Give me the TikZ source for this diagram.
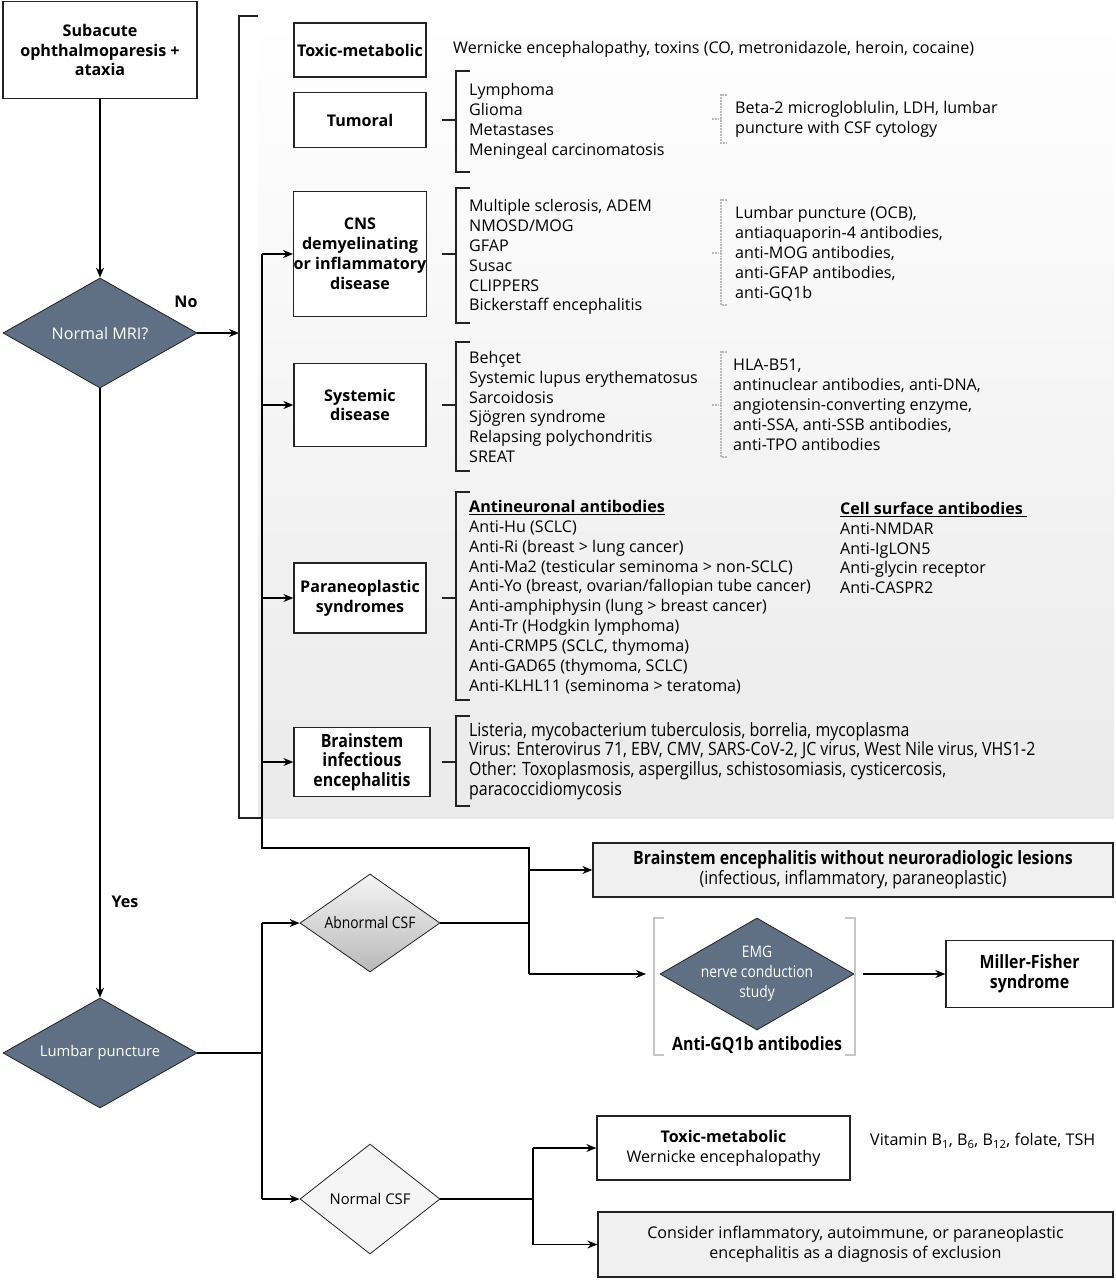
\documentclass[tikz,border=0pt]{standalone}
\usepackage{fontspec}
\setmainfont{Open Sans}
\newfontfamily\narrowfont[FakeStretch=0.87]{Open Sans}
\usetikzlibrary{arrows.meta}
\usetikzlibrary{shapes.geometric}
\definecolor{slate}{RGB}{95,112,132}
\definecolor{lineclr}{RGB}{35,35,35}
\definecolor{panel}{RGB}{234,234,234}
\newcommand{\bodyfont}{\fontsize{16.1}{19.9}\selectfont}
\newcommand{\narrowbig}{\fontsize{18.3}{19.6}\selectfont\narrowfont}
\newcommand{\narrowdia}{\fontsize{15.9}{20}\selectfont\narrowfont}

\begin{document}
\begin{tikzpicture}[x=1pt, y=-1pt, font=\bodyfont,
	box/.style={draw=lineclr, line width=1.3pt, fill=white, align=center, inner sep=0pt},
	catbox/.style={box, font=\bodyfont\bfseries, minimum width=132},
	dia/.style={diamond, draw=lineclr, line width=0.8pt, inner sep=0pt},
	lst/.style={anchor=west, align=left, inner sep=0pt},
	arr/.style={-{Stealth[length=10pt, width=8pt]}, line width=1.2pt},
	conn/.style={line width=1.2pt},
	brk/.style={line width=1.8pt, lineclr},
	dotbrk/.style={densely dotted, line width=1.8pt, gray!55}]
				\useasboundingbox (0,0) rectangle (1116,1280);
				\shade[top color=white, bottom color=panel] (258,16) rectangle (1114,818);
				% left column
				\node[box, font=\bodyfont\bfseries, minimum width=194, minimum height=97] (start) at (100,50) {Subacute\\ophthalmoparesis +\\ataxia};
				\node[dia, fill=slate, minimum width=194, minimum height=110, label={[text=white]center:Normal MRI?}] (mri) at (100,333) {};
				\node[dia, fill=slate, minimum width=194, minimum height=110, label={[text=white, font=\fontsize{14.8}{18}\selectfont]center:Lumbar puncture}] (lp) at (100,1053) {};
				\node[font=\bodyfont\bfseries] (no) at (186,302) {No};
				\node[font=\bodyfont\bfseries] (yes) at (125,902) {Yes};
				\coordinate (nojoin) at (239,333);
				\draw[arr] (start) -- (mri);
				\draw[arr] (mri) -- (lp);
				\draw[arr] (mri.east) -- (nojoin);
				% abnormal MRI
				\draw[brk, line width=2.4pt] (258,16) -- (239,16) -- (239,818) -- (262,818);
				\node[catbox, minimum height=54] (tox) at (360,50) {Toxic-metabolic};
				\node[catbox, minimum height=55] (tum) at (360,120) {Tumoral};
				\node[catbox, minimum height=125] (cns) at (360,254) {CNS\\demyelinating\\or inflammatory\\disease};
				\node[catbox, minimum height=83] (sys) at (360,405) {Systemic\\disease};
				\node[catbox, minimum height=70] (para) at (360,598) {Paraneoplastic\\syndromes};
				\node[catbox, font=\narrowbig\bfseries, minimum width=136, minimum height=69] (inf) at (362,762) {Brainstem\\infectious\\encephalitis};
				\coordinate (spinetop) at (262,254);
				\coordinate (spinebot) at (262,848);
				\coordinate (csfsplit) at (529,848);
				\draw[conn] (spinetop) -- (spinebot) -- (csfsplit) -- (529,974);
				\draw[arr] (spinetop) -- (cns.west);
				\draw[arr] (spinetop |- sys) -- (sys.west);
				\draw[arr] (spinetop |- para) -- (para.west);
				\draw[arr] (spinetop |- inf) -- (inf.west);
				% lists
				\node[lst] (toxlist) at (453,49) {Wernicke encephalopathy, toxins (CO, metronidazole, heroin, cocaine)};
				\node[lst] (tumlist) at (469,121) {Lymphoma\\Glioma\\Metastases\\Meningeal carcinomatosis};
				\node[lst] (tumtest) at (735,119) {Beta-2 microgloblulin, LDH, lumbar\\puncture with CSF cytology};
				\node[lst] (cnslist) at (469,257) {Multiple sclerosis, ADEM\\NMOSD/MOG\\GFAP\\Susac\\CLIPPERS\\Bickerstaff encephalitis};
				\node[lst] (cnstest) at (735,254) {Lumbar puncture (OCB),\\antiaquaporin-4 antibodies,\\anti-MOG antibodies,\\anti-GFAP antibodies,\\anti-GQ1b};
				\node[lst] (syslist) at (469,407) {Behçet\\Systemic lupus erythematosus\\Sarcoidosis\\Sjögren syndrome\\Relapsing polychondritis\\SREAT};
				\node[lst] (systest) at (733,405) {HLA-B51,\\antinuclear antibodies, anti-DNA,\\angiotensin-converting enzyme,\\anti-SSA, anti-SSB antibodies,\\anti-TPO antibodies};
				\node[lst] (paralist) at (469,597) {\textbf{\underline{Antineuronal antibodies}}\\Anti-Hu (SCLC)\\Anti-Ri (breast > lung cancer)\\Anti-Ma2 (testicular seminoma > non-SCLC)\\Anti-Yo (breast, ovarian/fallopian tube cancer)\\Anti-amphiphysin (lung > breast cancer)\\Anti-Tr (Hodgkin lymphoma)\\Anti-CRMP5 (SCLC, thymoma)\\Anti-GAD65 (thymoma, SCLC)\\Anti-KLHL11 (seminoma > teratoma)};
				\node[lst] (cell) at (840,548) {\textbf{\underline{Cell surface antibodies }}\\Anti-NMDAR\\Anti-IgLON5\\Anti-glycin receptor\\Anti-CASPR2};
				\node[lst, font=\narrowbig] (inflist) at (469,761) {Listeria, mycobacterium tuberculosis, borrelia, mycoplasma\\Virus: Enterovirus 71, EBV, CMV, SARS-CoV-2, JC virus, West Nile virus, VHS1-2\\Other: Toxoplasmosis, aspergillus, schistosomiasis, cysticercosis,\\paracoccidiomycosis};
				% brackets
				\draw[brk] (470,71) -- (456,71) -- (456,172) -- (470,172);
				\draw[brk] ([xshift=15pt]tum.east) -- (456,120);
				\draw[brk] (470,188) -- (456,188) -- (456,323) -- (470,323);
				\draw[brk] ([xshift=15pt]cns.east) -- (456,254);
				\draw[brk] (470,342) -- (456,342) -- (456,471) -- (470,471);
				\draw[brk] ([xshift=15pt]sys.east) -- (456,405);
				\draw[brk] (470,492) -- (456,492) -- (456,700) -- (470,700);
				\draw[brk] ([xshift=15pt]para.east) -- (456,598);
				\draw[brk] (470,716) -- (456,716) -- (456,806) -- (470,806);
				\draw[brk] ([xshift=11pt]inf.east) -- (456,762);
				\draw[dotbrk] (727,95) -- (721,95) -- (721,143) -- (727,143);
				\draw[dotbrk] (712,119) -- (721,119);
				\draw[dotbrk] (727,200) -- (721,200) -- (721,305) -- (727,305);
				\draw[dotbrk] (712,253) -- (721,253);
				\draw[dotbrk] (727,352) -- (721,352) -- (721,457) -- (727,457);
				\draw[dotbrk] (712,405) -- (721,405);
				% lumbar puncture
				\node[dia, top color=gray!8, bottom color=gray!55, minimum width=140, minimum height=98, label={[font=\narrowdia]center:Abnormal CSF}] (abn) at (370,923) {};
				\node[dia, fill=gray!8, minimum width=140, minimum height=110, label={[font=\fontsize{14.8}{18}\selectfont]center:Normal CSF}] (ncsf) at (370,1199) {};
				\node[box, fill=panel!70, font=\narrowbig, minimum width=520, minimum height=54] (bexp) at (853,870) {\textbf{Brainstem encephalitis without neuroradiologic lesions}\\(infectious, inflammatory, paraneoplastic)};
				\node[dia, fill=slate, minimum width=194, minimum height=112, label={[text=white, align=center, font=\narrowdia]center:EMG\\nerve conduction\\study}] (emg) at (757,974) {};
				\node[font=\narrowbig\bfseries] (gq) at (757,1045) {Anti-GQ1b antibodies};
				\node[box, font=\narrowbig\bfseries, minimum width=167, minimum height=67] (mf) at (1029.5,974) {Miller-Fisher\\syndrome};
				\node[box, minimum width=253, minimum height=64] (tm2) at (723.5,1148) {\textbf{Toxic-metabolic}\\Wernicke encephalopathy};
				\node[lst] (vit) at (870,1141) {Vitamin B\textsubscript{1}, B\textsubscript{6}, B\textsubscript{12}, folate, TSH};
				\node[box, fill=panel!70, minimum width=515, minimum height=65] (cons) at (855.5,1244.5) {Consider inflammatory, autoimmune, or paraneoplastic\\encephalitis as a diagnosis of exclusion};
				\draw[line width=1.5pt, gray!45] (664,918) -- (654,918) -- (654,1055) -- (664,1055);
				\draw[line width=1.5pt, gray!45] (845,918) -- (855,918) -- (855,1055) -- (845,1055);
				\coordinate (lpsplit) at (262,1053);
				\coordinate (abnsplit) at (529,923);
				\coordinate (ncsfsplit) at (533,1199);
				\coordinate (emgin) at (646,974);
				\coordinate (emgout) at (863,974);
				\draw[conn] (lp.east) -- (lpsplit);
				\draw[conn] (lpsplit |- abn) -- (lpsplit |- ncsf);
				\draw[arr] (lpsplit |- abn) -- (abn.west);
				\draw[arr] (lpsplit |- ncsf) -- (ncsf.west);
				\draw[conn] (abn.east) -- (abnsplit);
				\draw[arr] (csfsplit |- bexp) -- (bexp.west);
				\draw[arr] (csfsplit |- emgin) -- (emgin);
				\draw[arr] (emgout) -- (mf.west);
				\draw[conn] (ncsf.east) -- (ncsfsplit);
				\draw[conn] (ncsfsplit |- tm2) -- (ncsfsplit |- cons);
				\draw[arr] (ncsfsplit |- tm2) -- (tm2.west);
				\draw[arr] (ncsfsplit |- cons) -- (cons.west);
		\end{tikzpicture}
\end{document}
